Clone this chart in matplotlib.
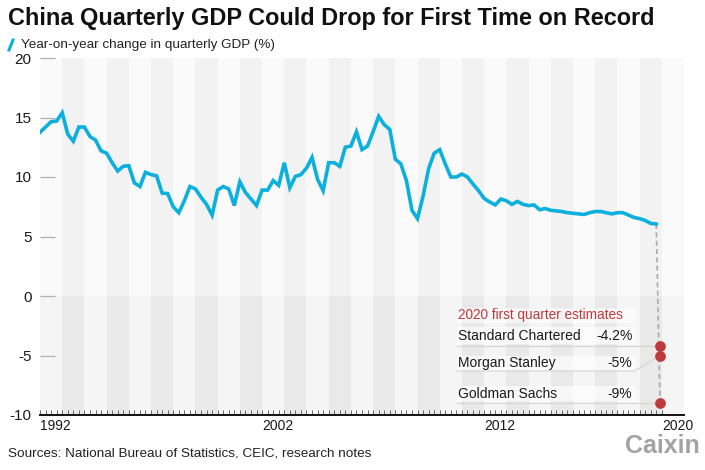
import numpy as np
import matplotlib
matplotlib.use('Agg')
import matplotlib.pyplot as plt
from matplotlib import font_manager
from matplotlib.patches import Rectangle
from matplotlib.lines import Line2D

# quarterly GDP, year-on-year % (1992Q1 .. 2019Q4)
gdp = [13.75, 14.2, 14.65, 14.7,
       15.4, 13.6, 13.0, 14.2,
       14.2, 13.4, 13.1, 12.2,
       12.0, 11.2, 10.5, 10.9,
       10.95, 9.5, 9.2, 10.4,
       10.2, 10.1, 8.65, 8.6,
       7.5, 7.0, 8.0, 9.2,
       9.0, 8.3, 7.7, 6.8,
       8.9, 9.2, 9.0, 7.6,
       9.6, 8.7, 8.15, 7.6,
       8.9, 8.9, 9.7, 9.3,
       11.2, 9.1, 10.05, 10.2,
       10.75, 11.65, 9.8, 8.85,
       11.2, 11.2, 10.9, 12.5,
       12.6, 13.8, 12.3, 12.6,
       13.8, 15.1, 14.4, 14.0,
       11.5, 11.1, 9.7, 7.2,
       6.5, 8.4, 10.7, 12.0,
       12.3, 11.1, 10.0, 10.0,
       10.25, 10.0, 9.4, 8.85,
       8.2, 7.9, 7.65, 8.15,
       8.0, 7.7, 7.95, 7.7,
       7.6, 7.65, 7.25, 7.35,
       7.2, 7.15, 7.1, 7.0,
       6.95, 6.9, 6.85, 7.0,
       7.1, 7.1, 7.0, 6.9,
       7.0, 7.0, 6.8, 6.6,
       6.5, 6.35, 6.1, 6.05]
start_year = 1992
band_years = list(range(1992, 2021))
tick_years = [1992, 2002, 2012, 2020]

est_names = ['Standard Chartered', 'Morgan Stanley', 'Goldman Sachs']
est_values = [-4.2, -5, -9]
est_labels = ['-4.2%', '-5%', '-9%']
est_x = 2019.92

BLUE = '#0bb0dc'
RED = '#bf3a3c'
INK = '#1a1a1a'

plt.rcParams['font.family'] = ['Liberation Sans', 'DejaVu Sans']
installed = {f.name for f in font_manager.fontManager.ttflist}
title_font = 'Liberation Sans Narrow' if 'Liberation Sans Narrow' in installed else 'Liberation Sans'

x = start_year + np.arange(len(gdp)) / 4

fig = plt.figure(figsize=(7.05, 4.70), dpi=100)
ax = fig.add_axes([40 / 705, 55 / 470, 644 / 705, 357 / 470])
ax.set_xlim(1992, 2021)
ax.set_ylim(-10, 20)

# alternating year bands, darker below zero
for yr in band_years:
    odd = yr % 2 == 1
    ax.bar(yr, 20, width=1, bottom=0, align='edge',
           color='#f2f2f2' if odd else '#fafafa', zorder=0, linewidth=0)
    ax.bar(yr, 10, width=1, bottom=-10, align='edge',
           color='#e9e9e9' if odd else '#f5f5f5', zorder=0, linewidth=0)

ax.plot(x, gdp, color=BLUE, lw=2.6, solid_joinstyle='miter', zorder=3)

# dashed drop line to the 2020 Q1 estimates
ax.plot([x[-1], est_x], [gdp[-1], min(est_values)], color='#aaaaaa', lw=1.2,
        ls=(0, (3, 2)), zorder=2)

# estimate annotation
lx0, lx1 = 2010.83, 2018.68
row_text_y = [-3.36, -5.63, -8.24]
row_line_y = [-4.2, -6.3, -9.0]
row_box = [(-4.05, -2.6), (-6.3, -5.0), (-8.85, -7.6)]
ax.add_patch(Rectangle((lx0 - 0.05, -2.25), lx1 - lx0 + 0.2, 1.2,
                       facecolor='white', alpha=0.55, lw=0, zorder=1))
for (b0, b1) in row_box:
    ax.add_patch(Rectangle((lx0 - 0.05, b0), lx1 - lx0 + 0.2, b1 - b0,
                           facecolor='white', alpha=0.65, lw=0, zorder=1))
ax.text(lx0, -1.6, '2020 first quarter estimates', color=RED, fontsize=9.8,
        va='center', ha='left', zorder=4)
for name, lab, ty, ly, val in zip(est_names, est_labels, row_text_y, row_line_y, est_values):
    ax.text(lx0, ty, name, color=INK, fontsize=10, va='center', ha='left', zorder=4)
    ax.text(lx1, ty, lab, color=INK, fontsize=10, va='center', ha='right', zorder=4)
    if ly == val:
        ax.plot([lx0 - 0.05, est_x], [ly, ly], color='#d4d4d4', lw=0.8, zorder=2)
    else:
        ax.plot([lx0 - 0.05, lx1 + 0.1, est_x], [ly, ly, val], color='#d4d4d4', lw=0.8, zorder=2)
ax.scatter([est_x] * len(est_values), est_values, s=45, color=RED, zorder=5)

# axes styling
for s in ['top', 'right', 'left']:
    ax.spines[s].set_visible(False)
ax.spines['bottom'].set_color('#111111')
ax.spines['bottom'].set_linewidth(1.4)
ax.spines['bottom'].set_zorder(6)

ax.set_yticks([-10, -5, 0, 5, 10, 15, 20])
ax.set_yticklabels(['-10', '-5', '0', '5', '10', '15', '20'])
ax.tick_params(axis='y', direction='in', length=11, width=0.9, color='#b0b0b0',
               labelsize=11, pad=6, labelcolor=INK)
ax.set_xticks(tick_years)
ax.set_xticklabels([str(t) for t in tick_years], ha='left')
ax.set_xticks(np.arange(1992, 2020.01, 0.25), minor=True)
ax.tick_params(axis='x', which='both', direction='in', length=3.5, width=0.7,
               color='#666666', labelsize=10, pad=3, labelcolor=INK)

# title, legend, source, logo
title = fig.text(8 / 705, 1 - 19 / 470, 'China Quarterly GDP Could Drop for First Time on Record',
                 fontsize=19, fontweight='bold', family=[title_font, 'DejaVu Sans'],
                 va='center', ha='left', color='#111111')
fig.canvas.draw()
w = title.get_window_extent().width
if w > 648:
    title.set_fontsize(19 * 648 / w)
fig.add_artist(Line2D([9 / 705, 13 / 705], [1 - 50 / 470, 1 - 40 / 470],
                      color=BLUE, lw=2.2, transform=fig.transFigure))
fig.text(21 / 705, 1 - 45 / 470, 'Year-on-year change in quarterly GDP (%)',
         fontsize=9.7, va='center', ha='left', color='#222222')
fig.text(8 / 705, 1 - 453 / 470, 'Sources: National Bureau of Statistics, CEIC, research notes',
         fontsize=9.7, va='center', ha='left', color='#222222')
fig.text(700 / 705, 1 - 446 / 470, 'Caixin', fontsize=18, fontweight='bold',
         va='center', ha='right', color='#a3a3a3')

fig.savefig('out.png', dpi=100)
